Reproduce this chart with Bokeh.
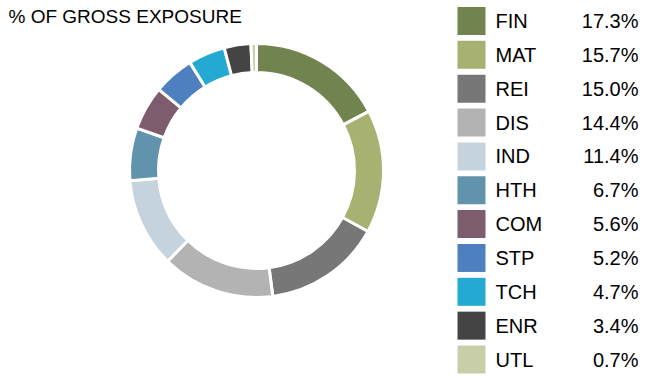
import numpy as np
from bokeh.plotting import figure
from bokeh.models import Range1d, ColumnDataSource
from bokeh.core.properties import value
from bokeh.embed import file_html
from bokeh.resources import INLINE

title = "% OF GROSS EXPOSURE"
sectors = ["FIN", "MAT", "REI", "DIS", "IND", "HTH", "COM", "STP", "TCH", "ENR", "UTL"]
shares = [17.3, 15.7, 15.0, 14.4, 11.4, 6.7, 5.6, 5.2, 4.7, 3.4, 0.7]
colors = ["#71844F", "#A7B172", "#777777", "#B3B3B3", "#C5D3DF", "#6193AC",
          "#7D5C6E", "#4E7FBE", "#24A9D3", "#444444", "#C8CEA8"]

W, H = 645, 380
p = figure(width=W, height=H, output_backend="svg", toolbar_location=None,
           x_range=Range1d(0, W), y_range=Range1d(385 - H, 385),
           min_border=0)
p.axis.visible = False
p.grid.visible = False
p.outline_line_color = None
p.background_fill_color = "white"

FONT = value("Liberation Sans")

# donut
vals = np.array(shares, dtype=float)
frac = vals / vals.sum()
cum_end = np.cumsum(frac)
cum_start = cum_end - frac
start = np.pi / 2 - cum_start * 2 * np.pi
end = np.pi / 2 - cum_end * 2 * np.pi
cx, cy = 256, 385 - 170
src = ColumnDataSource(dict(start=start, end=end, color=colors))
p.annular_wedge(x=cx, y=cy, inner_radius=98, outer_radius=127,
                start_angle="start", end_angle="end", direction="clock",
                fill_color="color", line_color="white", line_width=3,
                source=src)

# title
p.text(x=[8], y=[385 - 15.5], text=[title], text_font=FONT,
       text_font_size="19px", text_color="#000000",
       text_baseline="middle", text_align="left")

# legend
row_c = 20.5 + np.arange(len(sectors)) * 33.85
ys = 385 - row_c
p.rect(x=[471] * len(sectors), y=ys, width=28, height=28,
       fill_color=colors, line_color=None)
p.text(x=[495] * len(sectors), y=ys, text=sectors, text_font=FONT,
       text_font_size="20px", text_color="#000000",
       text_baseline="middle", text_align="left")
p.text(x=[638] * len(sectors), y=ys,
       text=[f"{v:.1f}%" for v in shares], text_font=FONT,
       text_font_size="20px", text_color="#000000",
       text_baseline="middle", text_align="right")

open("out.html", "w").write(file_html(p, INLINE))
